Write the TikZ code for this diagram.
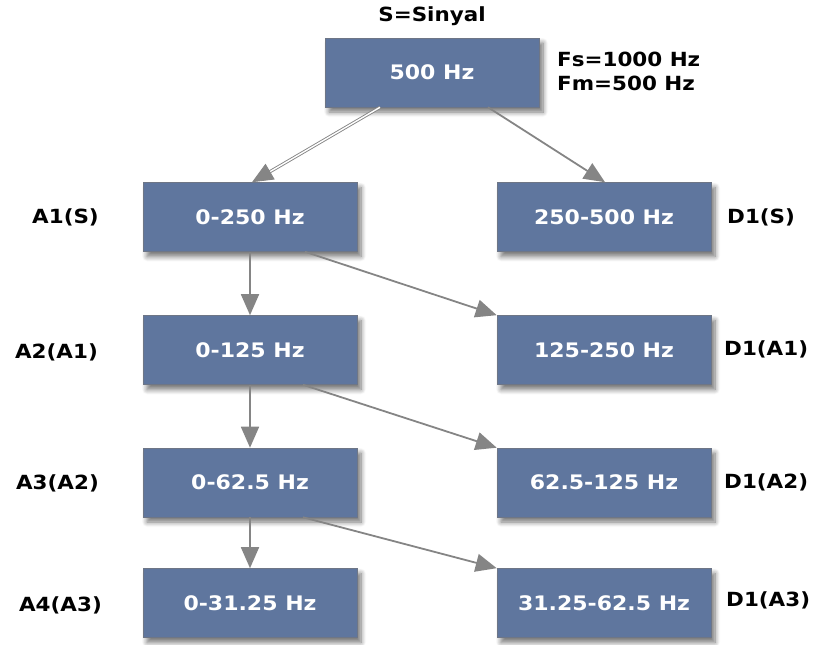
\documentclass[tikz,border=0pt]{standalone}
\usepackage{fontspec}
\setmainfont{DejaVu Sans}[FakeStretch=1.1]
\usetikzlibrary{arrows.meta,shadows.blur}
\definecolor{boxblue}{HTML}{5F769E}
\definecolor{boxedge}{HTML}{6E7686}
\definecolor{linkgray}{HTML}{858585}
\begin{document}
\begin{tikzpicture}[x=1pt,y=-1pt,
  band/.style={rectangle, fill=boxblue, draw=boxedge, line width=0.6pt,
    minimum width=214pt, minimum height=69pt, inner sep=0pt,
    text=white, font=\bfseries\fontsize{20}{23}\selectfont,
    blur shadow={shadow xshift=4pt, shadow yshift=-5pt, shadow blur steps=8, shadow blur radius=5pt, shadow opacity=55}},
  tag/.style={text=black, inner sep=0pt, font=\bfseries\fontsize{19.5}{23}\selectfont},
  link/.style={draw=linkgray, line width=1.8pt, -{Triangle[length=21pt,width=18pt]}},
  dlink/.style={draw=linkgray, line width=0.9pt, double=white, double distance=1.4pt,
    -{Triangle[length=21pt,width=18pt]}}]
\useasboundingbox (0,0) rectangle (815,645);

% signal and its decomposition bands
\node[band] (top) at (432,72.5) {500 Hz};
\node[band] (a1) at (250,217) {0-250 Hz};
\node[band] (d1) at (604,217) {250-500 Hz};
\node[band] (a2) at (250,350) {0-125 Hz};
\node[band] (d2) at (604,350) {125-250 Hz};
\node[band] (a3) at (250,482.5) {0-62.5 Hz};
\node[band] (d3) at (604,482.5) {62.5-125 Hz};
\node[band] (a4) at (250,603) {0-31.25 Hz};
\node[band] (d4) at (604,603) {31.25-62.5 Hz};

% captions
\node[tag] (sig) at (432,16) {S=Sinyal};
\node[tag, anchor=north west, align=left, font=\bfseries\fontsize{19.5}{24}\selectfont] (fs) at (557,52) {Fs=1000 Hz\\Fm=500 Hz};
\node[tag, anchor=east] (la1) at (99,217) {A1(S)};
\node[tag, anchor=east] (la2) at (98,352) {A2(A1)};
\node[tag, anchor=east] (la3) at (99,483) {A3(A2)};
\node[tag, anchor=east] (la4) at (102,605) {A4(A3)};
\node[tag, anchor=west] (ld1) at (727,217) {D1(S)};
\node[tag, anchor=west] (ld2) at (724,349) {D1(A1)};
\node[tag, anchor=west] (ld3) at (724,482) {D1(A2)};
\node[tag, anchor=west] (ld4) at (726,600) {D1(A3)};

% filter links
\draw[dlink] ([xshift=-52pt]top.south) -- ([xshift=2pt]a1.north);
\draw[link] ([xshift=56pt]top.south) -- ([xshift=1pt]d1.north);
\draw[link] (a1.south) -- (a2.north);
\draw[link] ([xshift=55pt]a1.south) -- (d2.north west);
\draw[link] (a2.south) -- (a3.north);
\draw[link] ([xshift=53pt]a2.south) -- (d3.north west);
\draw[link] (a3.south) -- (a4.north);
\draw[link] ([xshift=53pt]a3.south) -- (d4.north west);
\end{tikzpicture}
\end{document}
